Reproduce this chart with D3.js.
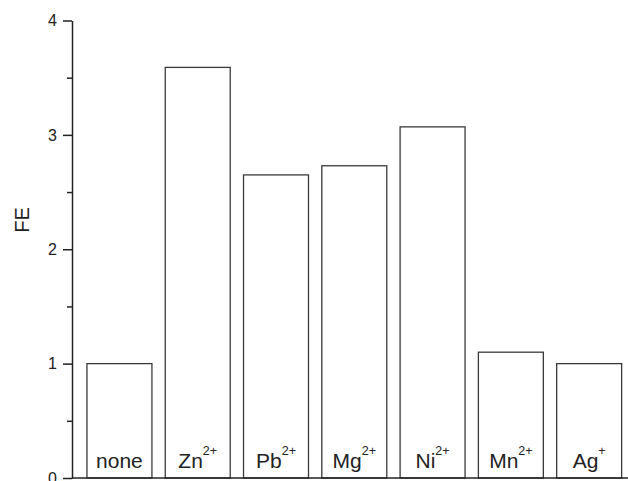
<!DOCTYPE html>
<html>
<head>
<meta charset="utf-8">
<script src="https://cdn.jsdelivr.net/npm/d3@7"></script>
<style>
  body { margin: 0; background: #fff; }
  svg { display: block; font-family: "Liberation Sans", Arial, sans-serif; }
</style>
</head>
<body>
<div id="chart"></div>
<script>
// ion labels (base + superscript charge) and FE values
const ions = ["none", "Zn", "Pb", "Mg", "Ni", "Mn", "Ag"];
const charges = ["", "2+", "2+", "2+", "2+", "2+", "+"];
const feValues = [1.0, 3.59, 2.65, 2.73, 3.07, 1.1, 1.0];
const yTicks = [0, 1, 2, 3, 4];
const yMinorTicks = [0.5, 1.5, 2.5, 3.5];

const width = 628, height = 481;

const svg = d3.select("#chart")
    .append("svg")
    .attr("width", width)
    .attr("height", height);

// Scales
const x = d3.scaleBand()
    .domain(ions)
    .range([80.3, 628.3])
    .paddingInner(0.17)
    .paddingOuter(0.085);

const y = d3.scaleLinear()
    .domain([0, 4])
    .range([478, 20.5]);

const ink = "#222";

// Bars
svg.selectAll(".bar")
    .data(ions)
    .enter().append("rect")
    .attr("class", "bar")
    .attr("x", d => x(d))
    .attr("y", (d, i) => y(feValues[i]))
    .attr("width", x.bandwidth())
    .attr("height", (d, i) => y(0) - y(feValues[i]))
    .attr("fill", "#fff")
    .attr("stroke", "#3a3a3a")
    .attr("stroke-width", 1.3);

// Bar labels with superscript charge
const labels = svg.selectAll(".lbl")
    .data(ions)
    .enter().append("text")
    .attr("class", "lbl")
    .attr("x", d => x(d) + x.bandwidth() / 2)
    .attr("y", 468)
    .attr("text-anchor", "middle")
    .style("font-size", "21px")
    .style("fill", ink);

labels.append("tspan").text(d => d);
labels.append("tspan")
    .attr("dy", -13)
    .style("font-size", "12.5px")
    .text((d, i) => charges[i]);

// Y axis, major ticks
const yAxis = svg.append("g")
    .attr("transform", "translate(72,0)")
    .call(d3.axisLeft(y)
        .tickValues(yTicks)
        .tickSize(9)
        .tickSizeOuter(0)
        .tickPadding(6)
        .tickFormat(d3.format("d")));

yAxis.selectAll("text")
    .style("font-size", "16px")
    .style("font-family", "\"Liberation Sans\", Arial, sans-serif")
    .style("fill", ink);
yAxis.selectAll("line, path")
    .attr("stroke", ink)
    .attr("stroke-width", 1.5);

// Minor ticks
svg.append("g")
    .attr("transform", "translate(72,0)")
    .call(d3.axisLeft(y)
        .tickValues(yMinorTicks)
        .tickSize(5)
        .tickSizeOuter(0)
        .tickFormat(""))
    .call(g => g.select(".domain").remove())
    .selectAll("line")
    .attr("stroke", ink)
    .attr("stroke-width", 1.5);

// X axis baseline
svg.append("line")
    .attr("x1", 72)
    .attr("x2", width)
    .attr("y1", y(0))
    .attr("y2", y(0))
    .attr("stroke", ink)
    .attr("stroke-width", 1.5);

// Y axis title
svg.append("text")
    .attr("transform", "translate(29,220) rotate(-90)")
    .attr("text-anchor", "middle")
    .style("font-size", "20px")
    .style("fill", ink)
    .text("FE");
</script>
</body>
</html>
